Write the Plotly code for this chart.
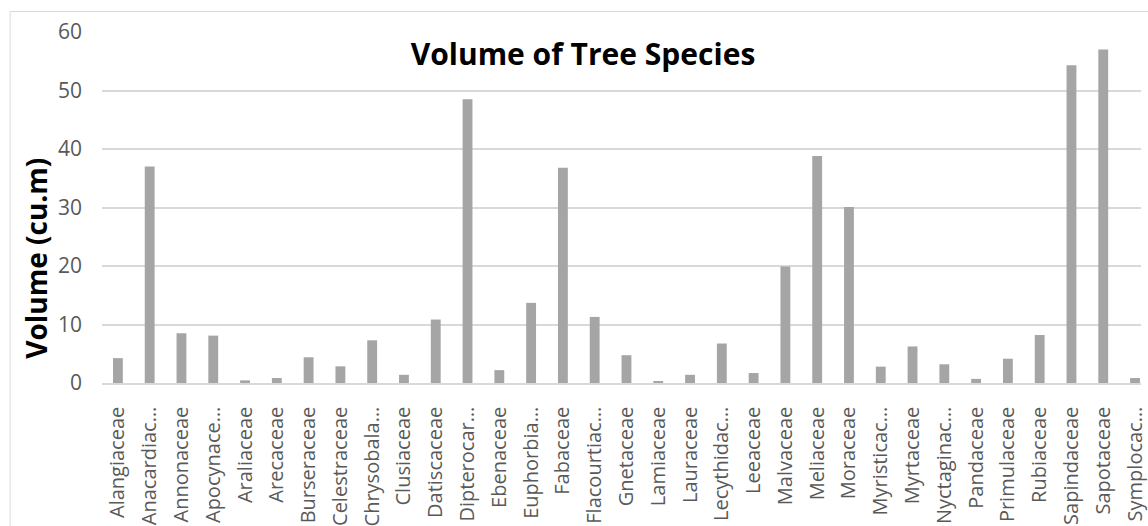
import plotly.graph_objects as go

families = [
    "Alangiaceae", "Anacardiac…", "Annonaceae", "Apocynace…", "Araliaceae",
    "Arecaceae", "Burseraceae", "Celestraceae", "Chrysobala…", "Clusiaceae",
    "Datiscaceae", "Dipterocar…", "Ebenaceae", "Euphorbia…", "Fabaceae",
    "Flacourtiac…", "Gnetaceae", "Lamiaceae", "Lauraceae", "Lecythidac…",
    "Leeaceae", "Malvaceae", "Meliaceae", "Moraceae", "Myristicac…",
    "Myrtaceae", "Nyctaginac…", "Pandaceae", "Primulaceae", "Rubiaceae",
    "Sapindaceae", "Sapotaceae", "Symplocac…",
]
volumes = [
    4.25, 37.0, 8.5, 8.1, 0.45,
    0.85, 4.4, 2.85, 7.3, 1.4,
    10.85, 48.5, 2.2, 13.7, 36.8,
    11.3, 4.75, 0.25, 1.4, 6.75,
    1.7, 19.9, 38.8, 30.1, 2.8,
    6.25, 3.2, 0.7, 4.15, 8.2,
    54.3, 57.0, 0.85,
]
y_ticks = [0, 10, 20, 30, 40, 50, 60]

W, H = 1148, 526
L, R, T, B = 102, 0, 32, 142
pw = W - L - R
ph = H - T - B
n = len(families)
step = 32.0
x_max = -0.5 + pw / step

fig = go.Figure(
    go.Bar(
        x=list(range(n)),
        y=volumes,
        marker=dict(color="#a5a5a5", line=dict(width=0)),
        width=0.31,
    )
)

def px_x(p):
    return (p - L) / pw

def px_y(p):
    return (H - B - p) / ph

fig.add_shape(
    type="rect", xref="paper", yref="paper",
    x0=px_x(9.5), x1=px_x(1200), y0=px_y(620), y1=px_y(11.5),
    line=dict(color="#d9d9d9", width=1), fillcolor="rgba(0,0,0,0)", layer="below",
)

fig.add_annotation(
    text="<b>Volume (cu.m)</b>",
    xref="paper", yref="paper",
    x=px_x(36), y=px_y(259),
    xanchor="center", yanchor="middle",
    textangle=-90, showarrow=False,
    font=dict(family="Open Sans", size=28, color="black"),
)

fig.update_layout(
    width=W, height=H,
    margin=dict(l=L, r=R, t=T, b=B, pad=0),
    paper_bgcolor="white", plot_bgcolor="white",
    showlegend=False,
    font=dict(family="Open Sans", color="#595959"),
    title=dict(
        text="<b>Volume of Tree Species</b>",
        font=dict(family="Open Sans", size=30, color="black"),
        x=583 / W, xref="container", xanchor="center",
        y=1 - 54 / H, yref="container", yanchor="middle",
    ),
    xaxis=dict(
        tickmode="array",
        tickvals=list(range(n)),
        ticktext=families,
        tickangle=-90,
        tickfont=dict(size=20, color="#595959"),
        range=[-0.5, x_max],
        showgrid=False,
        showline=True, linecolor="#d9d9d9", linewidth=1.5,
        ticks="", ticklabelstandoff=14,
        ticklabeloverflow="allow",
        zeroline=False,
        fixedrange=True,
    ),
    yaxis=dict(
        range=[0, 60],
        tickvals=y_ticks,
        tickfont=dict(size=21, color="#595959"),
        showgrid=True, gridcolor="#d9d9d9", gridwidth=1.5,
        zeroline=False,
        showline=False,
        ticks="", ticklabelstandoff=19,
        fixedrange=True,
    ),
    bargap=0.69,
)

fig.write_html("out.html", config={"displayModeBar": False})
